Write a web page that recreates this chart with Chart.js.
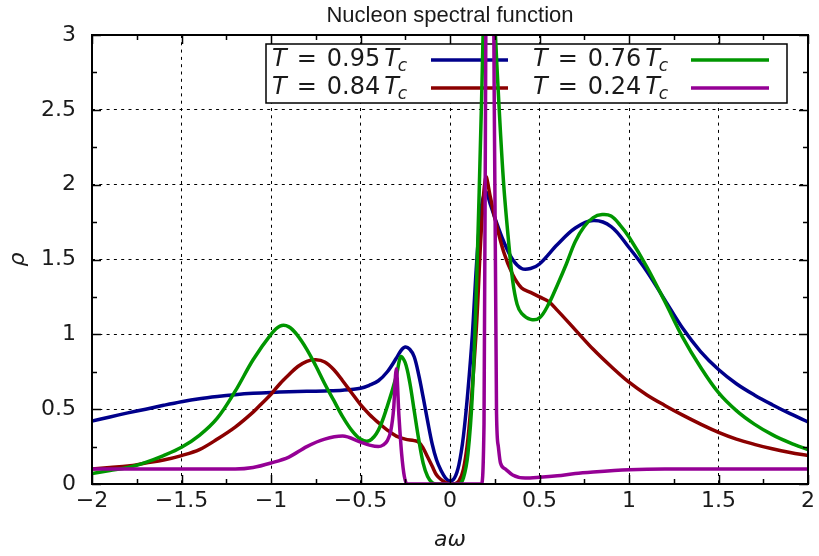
<!DOCTYPE html>
<html>
<head>
<meta charset="utf-8">
<title>Nucleon spectral function</title>
<script src="https://cdn.jsdelivr.net/npm/chart.js@4.4.1/dist/chart.umd.min.js"></script>
<style>
  body { margin: 0; background: #fff; }
  #wrap { width: 819px; height: 556px; }
</style>
</head>
<body>
<div id="wrap"><canvas id="spectral" width="819" height="556"></canvas></div>
<script>
// Values: x = a*omega, y = rho

// T = 0.95 Tc
const xT95 = [-2, -1.9, -1.8, -1.7, -1.6, -1.5, -1.4, -1.3, -1.2, -1.1, -1.0, -0.9, -0.8, -0.7, -0.6, -0.5,
  -0.45, -0.4, -0.35, -0.3, -0.275, -0.25, -0.225, -0.2, -0.175, -0.15, -0.125, -0.1, -0.075, -0.05, -0.025,
  0, 0.025, 0.05, 0.075, 0.1, 0.125, 0.15, 0.175, 0.2, 0.225, 0.25, 0.3, 0.35, 0.4, 0.45, 0.5,
  0.6, 0.7, 0.8, 0.9, 1.0, 1.1, 1.2, 1.3, 1.4, 1.5, 1.6, 1.7, 1.8, 1.9, 2.0];
const rhoT95 = [0.42, 0.448, 0.475, 0.5, 0.526, 0.55, 0.57, 0.585, 0.597, 0.606, 0.612, 0.616, 0.619, 0.622, 0.627, 0.64,
  0.66, 0.69, 0.75, 0.84, 0.89, 0.915, 0.9, 0.85, 0.73, 0.58, 0.42, 0.27, 0.16, 0.09, 0.04,
  0.02, 0.04, 0.13, 0.32, 0.62, 1.0, 1.5, 1.85, 1.95, 1.87, 1.78, 1.62, 1.5, 1.44, 1.44, 1.47,
  1.6, 1.71, 1.76, 1.72, 1.58, 1.42, 1.23, 1.04, 0.885, 0.765, 0.67, 0.595, 0.53, 0.47, 0.415];

// T = 0.84 Tc
const xT84 = [-2, -1.9, -1.8, -1.7, -1.6, -1.5, -1.4, -1.3, -1.2, -1.1, -1.05, -1.0, -0.95, -0.9, -0.85, -0.8,
  -0.75, -0.7, -0.65, -0.6, -0.55, -0.5, -0.45, -0.4, -0.35, -0.3, -0.25, -0.2, -0.175, -0.15, -0.125, -0.1,
  -0.075, -0.05, -0.025, 0, 0.025, 0.05, 0.075, 0.1, 0.125, 0.15, 0.175, 0.2, 0.225, 0.25, 0.3, 0.35, 0.4,
  0.45, 0.5, 0.55, 0.6, 0.7, 0.8, 0.9, 1.0, 1.1, 1.2, 1.3, 1.4, 1.5, 1.6, 1.7, 1.8, 1.9, 2.0];
const rhoT84 = [0.1, 0.11, 0.12, 0.14, 0.16, 0.19, 0.23, 0.3, 0.38, 0.48, 0.54, 0.6, 0.67, 0.73, 0.785, 0.82,
  0.83, 0.815, 0.765, 0.69, 0.61, 0.53, 0.465, 0.41, 0.36, 0.32, 0.3, 0.29, 0.28, 0.24, 0.18, 0.12,
  0.06, 0.03, 0.01, 0.0, 0.0, 0.02, 0.1, 0.3, 0.65, 1.1, 1.7, 2.05, 1.92, 1.78, 1.55, 1.4, 1.31,
  1.28, 1.25, 1.22, 1.16, 1.03, 0.9, 0.785, 0.68, 0.595, 0.525, 0.46, 0.4, 0.345, 0.3, 0.265, 0.235, 0.21, 0.19];

// T = 0.76 Tc
const xT76 = [-2, -1.9, -1.8, -1.7, -1.6, -1.5, -1.4, -1.3, -1.2, -1.1, -1.0, -0.95, -0.9, -0.85, -0.8, -0.75,
  -0.7, -0.65, -0.6, -0.55, -0.5, -0.45, -0.4, -0.35, -0.3, -0.275, -0.25, -0.225, -0.2, -0.175, -0.15,
  -0.125, -0.1, -0.075, 0.05, 0.075, 0.1, 0.125, 0.15, 0.175, 0.2, 0.225, 0.25, 0.275, 0.3, 0.325, 0.35,
  0.375, 0.4, 0.45, 0.5, 0.55, 0.6, 0.65, 0.7, 0.75, 0.8, 0.85, 0.9, 0.95, 1.0, 1.1, 1.2, 1.3, 1.4, 1.5,
  1.6, 1.7, 1.8, 1.9, 2.0];
const rhoT76 = [0.07, 0.09, 0.11, 0.145, 0.19, 0.245, 0.325, 0.44, 0.62, 0.83, 1.0, 1.055, 1.05, 0.99, 0.9, 0.79,
  0.67, 0.56, 0.45, 0.36, 0.3, 0.29, 0.36, 0.52, 0.72, 0.85, 0.81, 0.68, 0.49, 0.3, 0.14,
  0.05, 0.01, 0.0, 0.0, 0.04, 0.2, 0.6, 1.4, 2.5, 3.6, 3.9, 3.1, 2.5, 2.0, 1.65, 1.36,
  1.2, 1.14, 1.1, 1.11, 1.2, 1.33, 1.47, 1.62, 1.72, 1.78, 1.8, 1.79, 1.73, 1.65, 1.45, 1.22, 0.98, 0.78, 0.61,
  0.49, 0.4, 0.33, 0.275, 0.23];

// T = 0.24 Tc
const xT24 = [-2, -1.5, -1.2, -1.1, -1.0, -0.9, -0.8, -0.7, -0.6, -0.5, -0.45, -0.4, -0.375, -0.35, -0.33,
  -0.315, -0.3, -0.285, -0.27, -0.255, -0.24, 0.175, 0.19, 0.2, 0.225, 0.245, 0.26, 0.27, 0.282, 0.31,
  0.35, 0.42, 0.5, 0.6, 0.7, 0.8, 1.0, 1.2, 1.5, 2.0];
const rhoT24 = [0.1, 0.1, 0.1, 0.11, 0.14, 0.18, 0.25, 0.3, 0.32, 0.28, 0.26, 0.25, 0.26, 0.29, 0.36,
  0.5, 0.77, 0.45, 0.2, 0.05, 0.0, 0.0, 0.4, 3.0, 8.0, 3.0, 0.47, 0.25, 0.14, 0.1,
  0.06, 0.04, 0.045, 0.055, 0.07, 0.08, 0.095, 0.1, 0.1, 0.1];

const temps = ['0.95', '0.84', '0.76', '0.24'];
const colors = ['#00008b', '#8b0000', '#009600', '#950095'];

const FONT = '"DejaVu Sans", sans-serif';

function pairs(xs, ys) {
  return xs.map((x, i) => ({ x: x, y: ys[i] }));
}

function isMajor(v) {
  return Math.abs(v * 2 - Math.round(v * 2)) < 1e-6;
}

function fmt(v) {
  return String(+v.toFixed(2)).replace('-', '\u2212');
}

// gnuplot style: inward ticks on all four sides plus the frame
const framePlugin = {
  id: 'frame',
  afterDatasetsDraw(chart) {
    const ctx = chart.ctx;
    const a = chart.chartArea;
    const xs = chart.scales.x, ys = chart.scales.y;
    ctx.save();
    ctx.strokeStyle = '#000';
    ctx.lineWidth = 1.5;
    ctx.beginPath();
    xs.ticks.forEach(t => {
      const px = Math.round(xs.getPixelForValue(t.value)) + 0.5;
      const len = isMajor(t.value) ? 9 : 5;
      ctx.moveTo(px, a.bottom); ctx.lineTo(px, a.bottom - len);
      ctx.moveTo(px, a.top); ctx.lineTo(px, a.top + len);
    });
    ys.ticks.forEach(t => {
      const py = Math.round(ys.getPixelForValue(t.value)) + 0.5;
      const len = isMajor(t.value) ? 9 : 5;
      ctx.moveTo(a.left, py); ctx.lineTo(a.left + len, py);
      ctx.moveTo(a.right, py); ctx.lineTo(a.right - len, py);
    });
    ctx.stroke();
    ctx.lineWidth = 2;
    ctx.strokeRect(a.left, a.top, a.right - a.left, a.bottom - a.top);

    // title centred over the plot area
    ctx.fillStyle = '#1a1a1a';
    ctx.font = '22px "Liberation Sans", sans-serif';
    ctx.textAlign = 'center';
    ctx.textBaseline = 'middle';
    ctx.fillText('Nucleon spectral function', (a.left + a.right) / 2, 16);
    ctx.restore();
  }
};

// key box drawn under the curves, like the original
const keyPlugin = {
  id: 'key',
  beforeDatasetsDraw(chart) {
    const ctx = chart.ctx;
    ctx.save();
    ctx.fillStyle = '#fff';
    ctx.fillRect(266, 44, 521, 59);
    ctx.strokeStyle = '#000';
    ctx.lineWidth = 1.5;
    ctx.strokeRect(266, 44, 521, 59);

    const cols = [272, 533];
    const lineX = [[431, 508], [691, 769]];
    const rows = [60, 88];
    ctx.textBaseline = 'middle';
    ctx.fillStyle = '#1a1a1a';
    temps.forEach((t, i) => {
      const c = Math.floor(i / 2), r = i % 2;
      let x = cols[c];
      const y = rows[r];
      ctx.font = 'italic 24px ' + FONT;
      ctx.fillText('T', x, y);
      x += ctx.measureText('T').width + 10;
      ctx.font = '24px ' + FONT;
      ctx.fillText('=', x, y);
      x += ctx.measureText('=').width + 10;
      ctx.fillText(t, x, y);
      x += ctx.measureText(t).width + 4;
      ctx.font = 'italic 24px ' + FONT;
      ctx.fillText('T', x, y);
      x += ctx.measureText('T').width - 1;
      ctx.font = 'italic 17px ' + FONT;
      ctx.fillText('c', x, y + 7);

      ctx.strokeStyle = colors[i];
      ctx.lineWidth = 3.5;
      ctx.beginPath();
      ctx.moveTo(lineX[c][0], y);
      ctx.lineTo(lineX[c][1], y);
      ctx.stroke();
    });
    ctx.restore();
  }
};

const series = [rhoT95, rhoT84, rhoT76, rhoT24];
const xsAll = [xT95, xT84, xT76, xT24];

const datasets = series.map((ys, i) => ({
  label: 'T = ' + temps[i] + ' Tc',
  data: pairs(xsAll[i], ys),
  borderColor: colors[i],
  borderWidth: 3.5,
  pointRadius: 0,
  fill: false,
  // the sharp T = 0.24 curve needs monotone splines, the others are smooth
  cubicInterpolationMode: i === 3 ? 'monotone' : 'default',
  tension: i === 3 ? 0 : 0.35,
  order: 3 - i
}));

const ctx = document.getElementById('spectral').getContext('2d');
const chart = new Chart(ctx, {
  type: 'line',
  data: { datasets: datasets },
  options: {
    responsive: false,
    animation: false,
    layout: { padding: { left: 0, right: 9, top: 35, bottom: 0 } },
    plugins: {
      legend: { display: false },
      tooltip: { enabled: false },
      title: { display: false }
    },
    scales: {
      x: {
        type: 'linear',
        min: -2,
        max: 2,
        afterFit(scale) { scale.height = 72; },
        ticks: {
          stepSize: 0.25,
          autoSkip: false,
          maxRotation: 0,
          padding: 4,
          color: '#1a1a1a',
          font: { family: FONT, size: 22 },
          callback: v => isMajor(v) ? fmt(v) : ''
        },
        grid: {
          drawTicks: false,
          lineWidth: 1,
          color: c => isMajor(c.tick.value) ? '#000' : 'rgba(0,0,0,0)'
        },
        border: { display: false, dash: [3, 4.3] },
        title: {
          display: true,
          text: 'a\u03c9',
          color: '#1a1a1a',
          font: { family: FONT, size: 22, style: 'italic' },
          padding: { top: 0, bottom: 3 }
        }
      },
      y: {
        type: 'linear',
        min: 0,
        max: 3,
        afterFit(scale) { scale.width = 92; },
        ticks: {
          stepSize: 0.25,
          autoSkip: false,
          padding: 16,
          color: '#1a1a1a',
          font: { family: FONT, size: 22 },
          callback: v => isMajor(v) ? fmt(v) : ''
        },
        grid: {
          drawTicks: false,
          lineWidth: 1,
          color: c => isMajor(c.tick.value) ? '#000' : 'rgba(0,0,0,0)'
        },
        border: { display: false, dash: [3, 4.3] },
        title: {
          display: true,
          text: '\u03c1',
          color: '#1a1a1a',
          font: { family: FONT, size: 22, style: 'italic' },
          padding: { top: 5, bottom: 0 }
        }
      }
    }
  },
  plugins: [keyPlugin, framePlugin]
});
</script>
</body>
</html>
